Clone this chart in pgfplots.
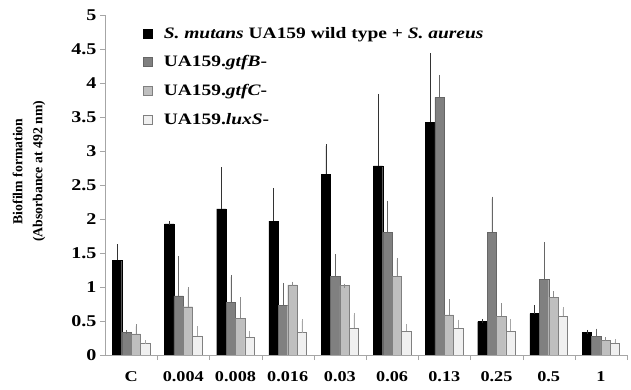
\documentclass[border=0pt]{standalone}
\usepackage{fontspec}
\setmainfont{Liberation Serif}[FakeStretch=1.22]
\newfontfamily\ylfont{Liberation Serif}
\usepackage{pgfplots}
\pgfplotsset{compat=1.18}
\usepackage{pgfplotstable}
\pgfplotstableread{
x y e
0 1.39 0.21
1 1.93 0.01
2 2.15 0.58
3 1.97 0.46
4 2.66 0.41
5 2.78 1.03
6 3.42 0.99
7 0.49 0.01
8 0.61 0.09
9 0.33 0.01
}\wt
\pgfplotstableread{
x y e
0 0.33 0.01
1 0.87 0.56
2 0.77 0.38
3 0.73 0.30
4 1.16 0.29
5 1.80 0.44
6 3.79 0.30
7 1.80 0.50
8 1.11 0.52
9 0.27 0.09
}\gtfB
\pgfplotstableread{
x y e
0 0.31 0.11
1 0.71 0.26
2 0.54 0.28
3 1.03 0.02
4 1.02 0.00
5 1.16 0.24
6 0.59 0.20
7 0.57 0.16
8 0.85 0.06
9 0.22 0.01
}\gtfC
\pgfplotstableread{
x y e
0 0.18 0.01
1 0.28 0.11
2 0.26 0.07
3 0.33 0.17
4 0.40 0.19
5 0.35 0.08
6 0.39 0.10
7 0.35 0.15
8 0.57 0.11
9 0.17 0.03
}\luxS
\definecolor{cB}{gray}{0.5}
\definecolor{cC}{gray}{0.75}
\definecolor{cL}{gray}{0.94}
\pgfplotsset{eb/.style={error bars/y dir=plus, error bars/y explicit, error bars/error mark options={mark size=2bp}, error bars/error bar style={#1}}}
\begin{document}
\begin{tikzpicture}
\begin{axis}[
  scale only axis,
  width=522bp, height=340bp,
  xmin=-0.5, xmax=9.5,
  ymin=0, ymax=5,
  ybar=0pt,
  bar width=0.18,
  axis x line*=bottom,
  axis y line*=left,
  axis line style={gray!70},
  tick style={gray!70},
  tick align=outside,
  xtick={0,...,9},
  xticklabels={C,0.004,0.008,0.016,0.03,0.06,0.13,0.25,0.5,1},
  major x tick style={draw=none},
  minor xtick={0.5,1.5,2.5,3.5,4.5,5.5,6.5,7.5,8.5,9.5},
  minor tick length=5bp,
  major tick length=5bp,
  ytick={0,0.5,...,5},
  /pgf/number format/assume math mode=true,
  yticklabel style={font=\fontsize{16.5}{16.5}\selectfont\bfseries},
  xticklabel style={font=\fontsize{15}{15}\selectfont\bfseries, yshift=-8bp},
  ylabel={Biofilm formation\\(Absorbance at 492 nm)},
  ylabel style={font=\ylfont\fontsize{13.8}{20}\selectfont\bfseries, align=center, at={(rel axis cs:0,0.54)}, anchor=center, yshift=76bp},
  legend style={draw=none, fill=none, at={(rel axis cs:0.066,0.977)}, anchor=north west,
    font=\fontsize{16}{16}\selectfont\bfseries, row sep=12bp},
  legend cell align=left,
  legend image code/.code={\draw[#1] (0bp,-4.5bp) rectangle (9bp,4.5bp); \path[draw=none,fill=none] (0bp,0bp) rectangle (19bp,0.1bp);},
]
\addplot[fill=black, draw=black, eb={black!80}] table[x=x,y=y,y error=e]{\wt};
\addplot[fill=cB, draw=black!60, eb={black!60}] table[x=x,y=y,y error=e]{\gtfB};
\addplot[fill=cC, draw=black!50, eb={black!45}] table[x=x,y=y,y error=e]{\gtfC};
\addplot[fill=cL, draw=black!50, eb={black!35}] table[x=x,y=y,y error=e]{\luxS};
\legend{\textit{S. mutans} UA159 wild type + \textit{S. aureus}, UA159.\textit{gtfB}-, UA159.\textit{gtfC}-, UA159.\textit{luxS}-}
\end{axis}
\pgfresetboundingbox
\path (-105bp,-35bp) rectangle (526bp,355bp);
\end{tikzpicture}
\end{document}
